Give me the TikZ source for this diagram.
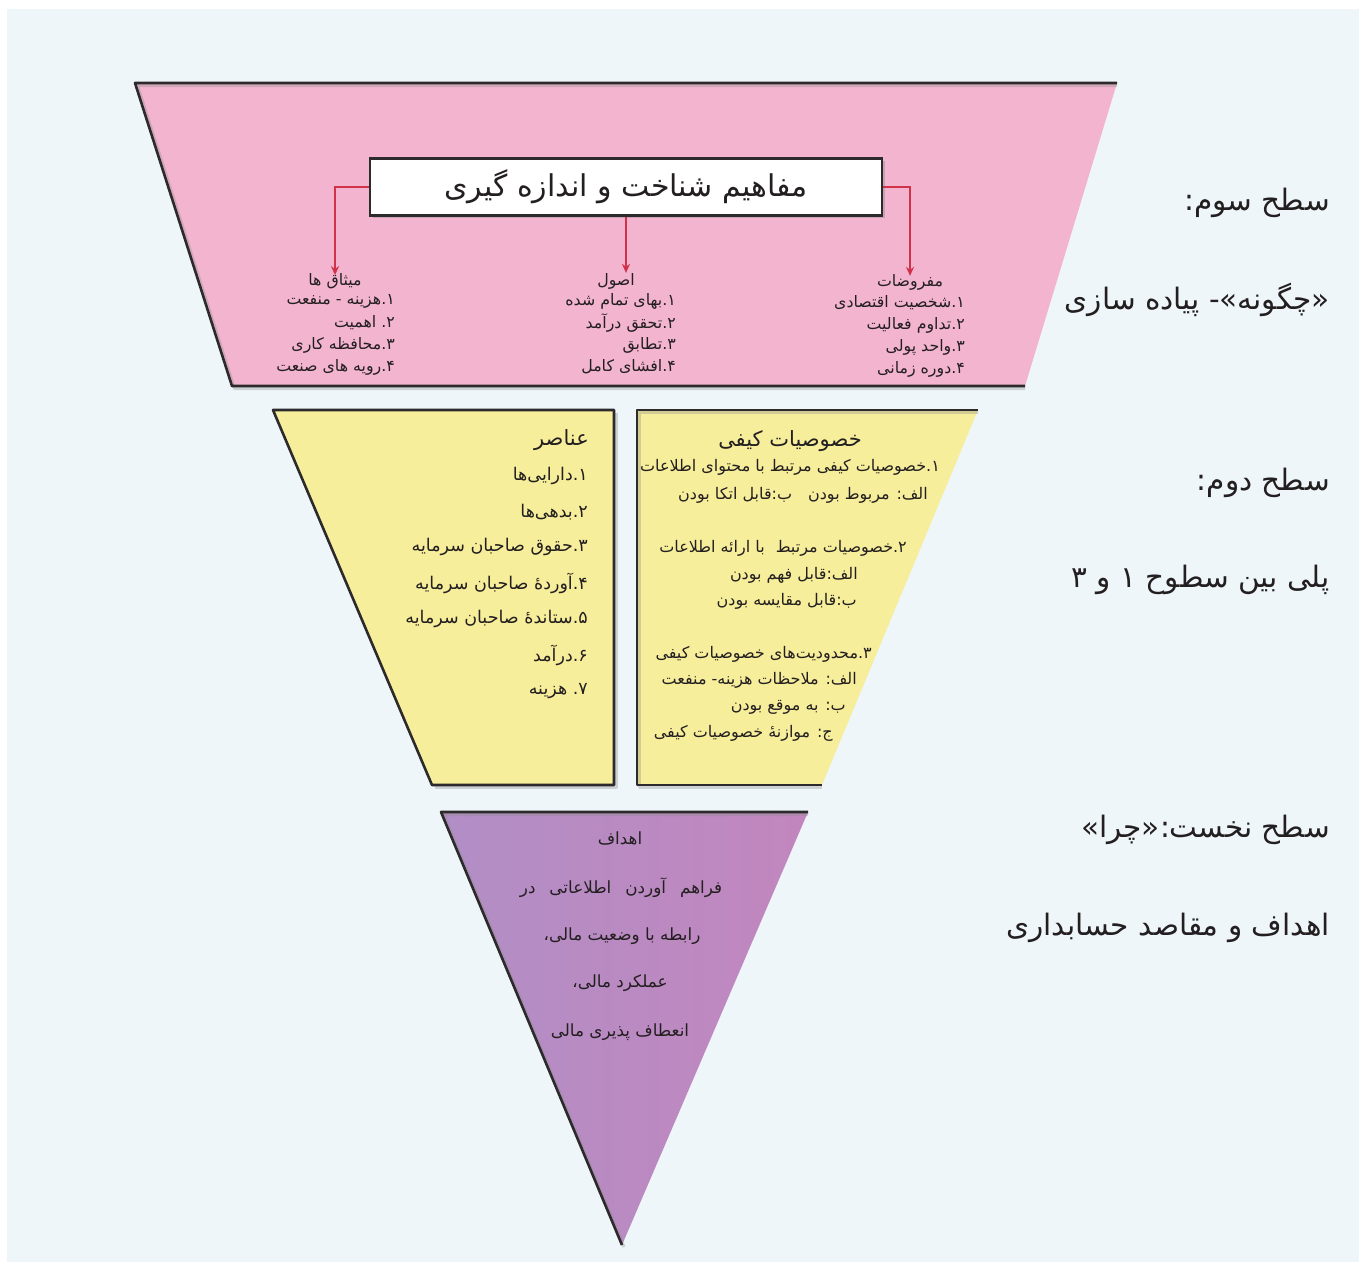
\documentclass[tikz,border=0pt]{standalone}
\usepackage{fontspec}
\usetikzlibrary{arrows.meta,shadows}
\TeXXeTstate=1
\newfontfamily\fa[Script=Arabic]{DejaVu Sans}
\newcommand\RL[1]{\beginR #1\endR}
\definecolor{bgblue}{RGB}{239,246,250}
\definecolor{pinkf}{RGB}{243,180,208}
\definecolor{yellowf}{RGB}{247,238,155}
\definecolor{purpL}{RGB}{178,142,198}
\definecolor{purpR}{RGB}{194,134,190}
\definecolor{arrowred}{RGB}{208,50,74}
\definecolor{txt}{RGB}{35,31,32}
\definecolor{edgec}{RGB}{45,42,44}
\begin{document}
\begin{tikzpicture}[x=1pt,y={(0pt,-1pt)},
  edge/.style={draw=edgec, line width=2.6pt, line join=round},
  edgeshadow/.style={draw=black!45, line width=3pt, opacity=0.35, line join=round},
  conn/.style={draw=arrowred, line width=2.2pt, -{Stealth[length=9pt,width=8pt]}},
  base/.style={inner sep=0pt, text=txt},
  colt/.style={base, font=\fa\fontsize{15.8}{19}\selectfont},
  yelt/.style={base, font=\fa\fontsize{17.5}{21}\selectfont},
  yelh/.style={base, font=\fa\fontsize{21}{25}\selectfont},
  yrt/.style={base, font=\fa\fontsize{16}{19}\selectfont},
  purt/.style={base, font=\fa\fontsize{16.8}{20}\selectfont},
  lab/.style={base, font=\fa\fontsize{29.5}{34}\selectfont, anchor=east},
  titlebox/.style={draw=edgec, line width=2.6pt, fill=white, minimum width=512pt, minimum height=57pt, inner sep=0pt, text=txt, font=\fa\fontsize{30}{34}\selectfont, drop shadow={shadow xshift=2.5pt, shadow yshift=-2.5pt, opacity=0.35}}
]
\useasboundingbox (0,0) rectangle (1359,1262);
\fill[white] (0,0) rectangle (1359,1262);
\fill[bgblue] (7,9) rectangle (1359,1262);

% pink trapezoid (level 3)
\fill[pinkf] (135,83) -- (1117,83) -- (1025,386) -- (232,386) -- cycle;
\draw[edgeshadow] (1117,85.5) -- (137.5,85.5) -- (234.5,388.5) -- (1025,388.5);
\draw[edge] (1117,83) -- (135,83) -- (232,386) -- (1025,386);

% yellow left
\fill[yellowf] (273,410) -- (614,410) -- (614,785) -- (432,785) -- cycle;
\draw[edgeshadow] (616.5,412.5) -- (616.5,787.5) -- (434.5,787.5);
\draw[edge] (614,410) -- (273,410) -- (432,785) -- (614,785) -- cycle;

% yellow right
\fill[yellowf] (637,410) -- (978,410) -- (822,785) -- (637,785) -- cycle;
\draw[edgeshadow] (978,412.5) -- (639.5,412.5) -- (639.5,787.5) -- (822,787.5);
\draw[edge] (978,410) -- (637,410) -- (637,785) -- (822,785);

% purple triangle
\shade[left color=purpL, right color=purpR] (441,812) -- (808,812) -- (622,1245) -- cycle;
\draw[edgeshadow] (808,814.5) -- (443.5,814.5) -- (624,1247);
\draw[edge] (808,812) -- (441,812) -- (622,1245);

% title box
\node[titlebox] (title) at (626,187) {\RL{مفاهیم شناخت و اندازه گیری}};

% pink columns
\node[colt] (m0) at (335,281) {\RL{میثاق ها}};
\node[colt, anchor=east] (m1) at (395,301) {\RL{۱.هزینه - منفعت}};
\node[colt, anchor=east] (m2) at (395,323) {\RL{۲.\ اهمیت}};
\node[colt, anchor=east] (m3) at (395,345) {\RL{۳.محافظه کاری}};
\node[colt, anchor=east] (m4) at (395,367) {\RL{۴.رویه های صنعت}};

\node[colt] (o0) at (616,281) {\RL{اصول}};
\node[colt, anchor=east] (o1) at (676,301) {\RL{۱.بهای تمام شده}};
\node[colt, anchor=east] (o2) at (676,323) {\RL{۲.تحقق درآمد}};
\node[colt, anchor=east] (o3) at (676,345) {\RL{۳.تطابق}};
\node[colt, anchor=east] (o4) at (676,367) {\RL{۴.افشای کامل}};

\node[colt] (f0) at (910,282) {\RL{مفروضات}};
\node[colt, anchor=east] (f1) at (965,303) {\RL{۱.شخصیت اقتصادی}};
\node[colt, anchor=east] (f2) at (965,325) {\RL{۲.تداوم فعالیت}};
\node[colt, anchor=east] (f3) at (965,347) {\RL{۳.واحد پولی}};
\node[colt, anchor=east] (f4) at (965,369) {\RL{۴.دوره زمانی}};

% connectors
\draw[conn] (title.west) -| ([yshift=-2pt]m0.north);
\draw[conn] (title.south) -- (title.south |- o0.north);
\draw[conn] (title.east) -| ([yshift=-2pt]f0.north);

% yellow left text
\node[yelh, anchor=east] (e0) at (589,440) {\RL{عناصر}};
\node[yelt, anchor=east] (e1) at (588,476) {\RL{۱.دارایی‌ها}};
\node[yelt, anchor=east] (e2) at (588,512) {\RL{۲.بدهی‌ها}};
\node[yelt, anchor=east] (e3) at (588,547) {\RL{۳.حقوق صاحبان سرمایه}};
\node[yelt, anchor=east] (e4) at (588,583) {\RL{۴.آوردهٔ صاحبان سرمایه}};
\node[yelt, anchor=east] (e5) at (588,619) {\RL{۵.ستاندهٔ صاحبان سرمایه}};
\node[yelt, anchor=east] (e6) at (588,655) {\RL{۶.درآمد}};
\node[yelt, anchor=east] (e7) at (588,691) {\RL{۷.\ هزینه}};

% yellow right text
\node[yelh] (k0) at (790,441) {\RL{خصوصیات کیفی}};
\node[yrt, anchor=east] (k1) at (940,467) {\RL{۱.خصوصیات کیفی مرتبط با محتوای اطلاعات}};
\node[yrt, anchor=east] (k2) at (928,495) {\RL{الف: مربوط بودن\hspace{16pt}ب:قابل اتکا بودن}};
\node[yrt, anchor=east] (k3) at (907,548) {\RL{۲.خصوصیات مرتبط\hspace{6pt} با ارائه اطلاعات}};
\node[yrt, anchor=east] (k4) at (858,575) {\RL{الف:قابل فهم بودن}};
\node[yrt, anchor=east] (k5) at (857,601) {\RL{ب:قابل مقایسه بودن}};
\node[yrt, anchor=east] (k6) at (872,654) {\RL{۳.محدودیت‌های خصوصیات کیفی}};
\node[yrt, anchor=east] (k7) at (857,680) {\RL{الف: ملاحظات هزینه- منفعت}};
\node[yrt, anchor=east] (k8) at (846,707) {\RL{ب: به موقع بودن}};
\node[yrt, anchor=east] (k9) at (833,733) {\RL{ج: موازنهٔ خصوصیات کیفی}};

% purple text
\node[purt] (p0) at (620,838) {\RL{اهداف}};
\node[purt] (p1) at (621,888) {\RL{فراهم\hspace{14pt}آوردن\hspace{14pt}اطلاعاتی\hspace{14pt}در}};
\node[purt] (p2) at (622,936) {\RL{رابطه با وضعیت مالی،}};
\node[purt] (p3) at (620,983) {\RL{عملکرد مالی،}};
\node[purt] (p4) at (620,1032) {\RL{انعطاف پذیری مالی}};

% right labels
\node[lab] (r1) at (1330,203) {\RL{سطح سوم:}};
\node[lab] (r2) at (1330,300) {\RL{«چگونه»- پیاده سازی}};
\node[lab] (r3) at (1330,483) {\RL{سطح دوم:}};
\node[lab] (r4) at (1330,580) {\RL{پلی بین سطوح ۱ و ۳}};
\node[lab] (r5) at (1330,830) {\RL{سطح نخست:«چرا»}};
\node[lab] (r6) at (1330,928) {\RL{اهداف و مقاصد حسابداری}};
\end{tikzpicture}
\end{document}
